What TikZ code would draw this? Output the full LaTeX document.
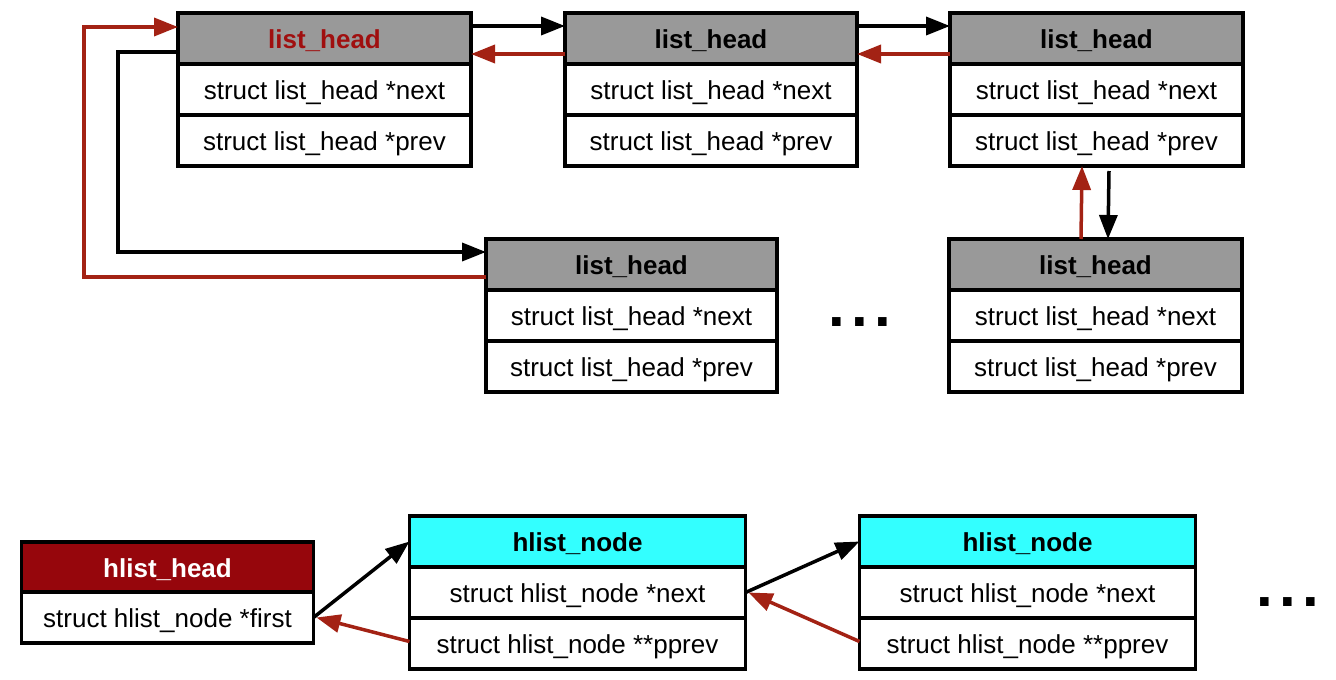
\documentclass[tikz,border=0pt]{standalone}
\usepackage{fontspec}
\setmainfont{Liberation Sans}
\usetikzlibrary{arrows.meta}
\definecolor{hdrgray}{HTML}{999999}
\definecolor{arrred}{HTML}{A32214}
\definecolor{ttlred}{HTML}{A00F0F}
\definecolor{hhred}{HTML}{96060C}
\definecolor{hcyan}{HTML}{33FFFF}
\tikzset{
  cellbox/.style={draw=black, line width=3.5pt, inner sep=0pt, outer sep=0pt,
    minimum height=51pt, fill=white, text=black,
    font=\fontsize{26}{30}\selectfont, text height=19pt, text depth=0pt},
  hdrbox/.style={cellbox, fill=hdrgray, font=\fontsize{26}{30}\selectfont\bfseries},
  blk/.style={draw=black, line width=3.5pt, -{Triangle[length=24pt,width=18pt]}},
  rarr/.style={blk, draw=arrred},
  dotsnode/.style={inner sep=0pt, font=\fontsize{60}{60}\selectfont\bfseries,
    text height=8.4pt, text depth=0pt}
}
\newcommand\lhbox[5]{%
  \node[hdrbox, minimum width=#4pt, #5] (#1h) at ({#2+#4/2},{#3+25.5}) {list\_head};
  \node[cellbox, minimum width=#4pt] (#1n) at ({#2+#4/2},{#3+76.5}) {struct list\_head *next};
  \node[cellbox, minimum width=#4pt] (#1p) at ({#2+#4/2},{#3+127.5}) {struct list\_head *prev};
}
\newcommand\hnbox[3]{%
  \node[hdrbox, minimum width=336pt, fill=hcyan] (#1h) at ({#2+169.5},{#3+25.5}) {hlist\_node};
  \node[cellbox, minimum width=336pt] (#1n) at ({#2+169.5},{#3+76.5}) {struct hlist\_node *next};
  \node[cellbox, minimum width=336pt] (#1p) at ({#2+169.5},{#3+127.5}) {struct hlist\_node **pprev};
}
\begin{document}
\begin{tikzpicture}[x=1pt,y=-1pt]
\fill[white] (0,0) rectangle (1336,680);
\useasboundingbox (0,0) rectangle (1336,680);

% list_head boxes
\lhbox{a}{178}{13}{293}{text=ttlred}
\lhbox{b}{565}{13}{292}{}
\lhbox{c}{950}{13}{293}{}
\lhbox{d}{486}{239}{291}{}
\lhbox{e}{949}{239}{293}{}

% horizontal links top row
\draw[blk] ([yshift=12.5pt]ah.east) -- ([yshift=12.5pt]bh.west);
\draw[blk] ([yshift=12.5pt]bh.east) -- ([yshift=12.5pt]ch.west);
\draw[rarr] ([yshift=-15.5pt]bh.west) -- ([yshift=-15.5pt]ah.east);
\draw[rarr] ([yshift=-15.5pt]ch.west) -- ([yshift=-15.5pt]bh.east);

% vertical links
\draw[rarr] ([xshift=-14.5pt]eh.north) -- ([xshift=-14.5pt]cp.south);
\draw[blk] ([xshift=12.5pt,yshift=-5pt]cp.south) -- ([xshift=12.5pt]eh.north);

% loop links
\coordinate (blkx) at (118,150);
\coordinate (redx) at (84,150);
\draw[blk] ([yshift=-13.5pt]ah.west) -| (blkx) |- ([yshift=12.5pt]dh.west);
\draw[rarr] ([yshift=-12.5pt]dh.west) -| (redx) |- ([yshift=11.5pt]ah.west);

\node[dotsnode] (dots1) at (860,322) {.\hspace{6.3pt}.\hspace{6.3pt}.};

% hlist
\node[hdrbox, minimum width=292pt, fill=hhred, text=white] (hhh) at (167.5,567.5) {hlist\_head};
\node[cellbox, minimum width=292pt] (hhf) at (167.5,617.5) {struct hlist\_node *first};
\hnbox{m}{408}{516}
\hnbox{k}{858}{516}

\draw[blk] (hhf.east) -- (mh.west);
\draw[rarr] ([yshift=2pt]mp.west) -- ([xshift=3pt]hhf.east);
\draw[blk] (mn.east) -- (kh.west);
\draw[rarr] ([yshift=2pt]kp.west) -- ([xshift=3pt]mn.east);

\node[dotsnode] (dots2) at (1288,602) {.\hspace{6.3pt}.\hspace{6.3pt}.};
\end{tikzpicture}
\end{document}
